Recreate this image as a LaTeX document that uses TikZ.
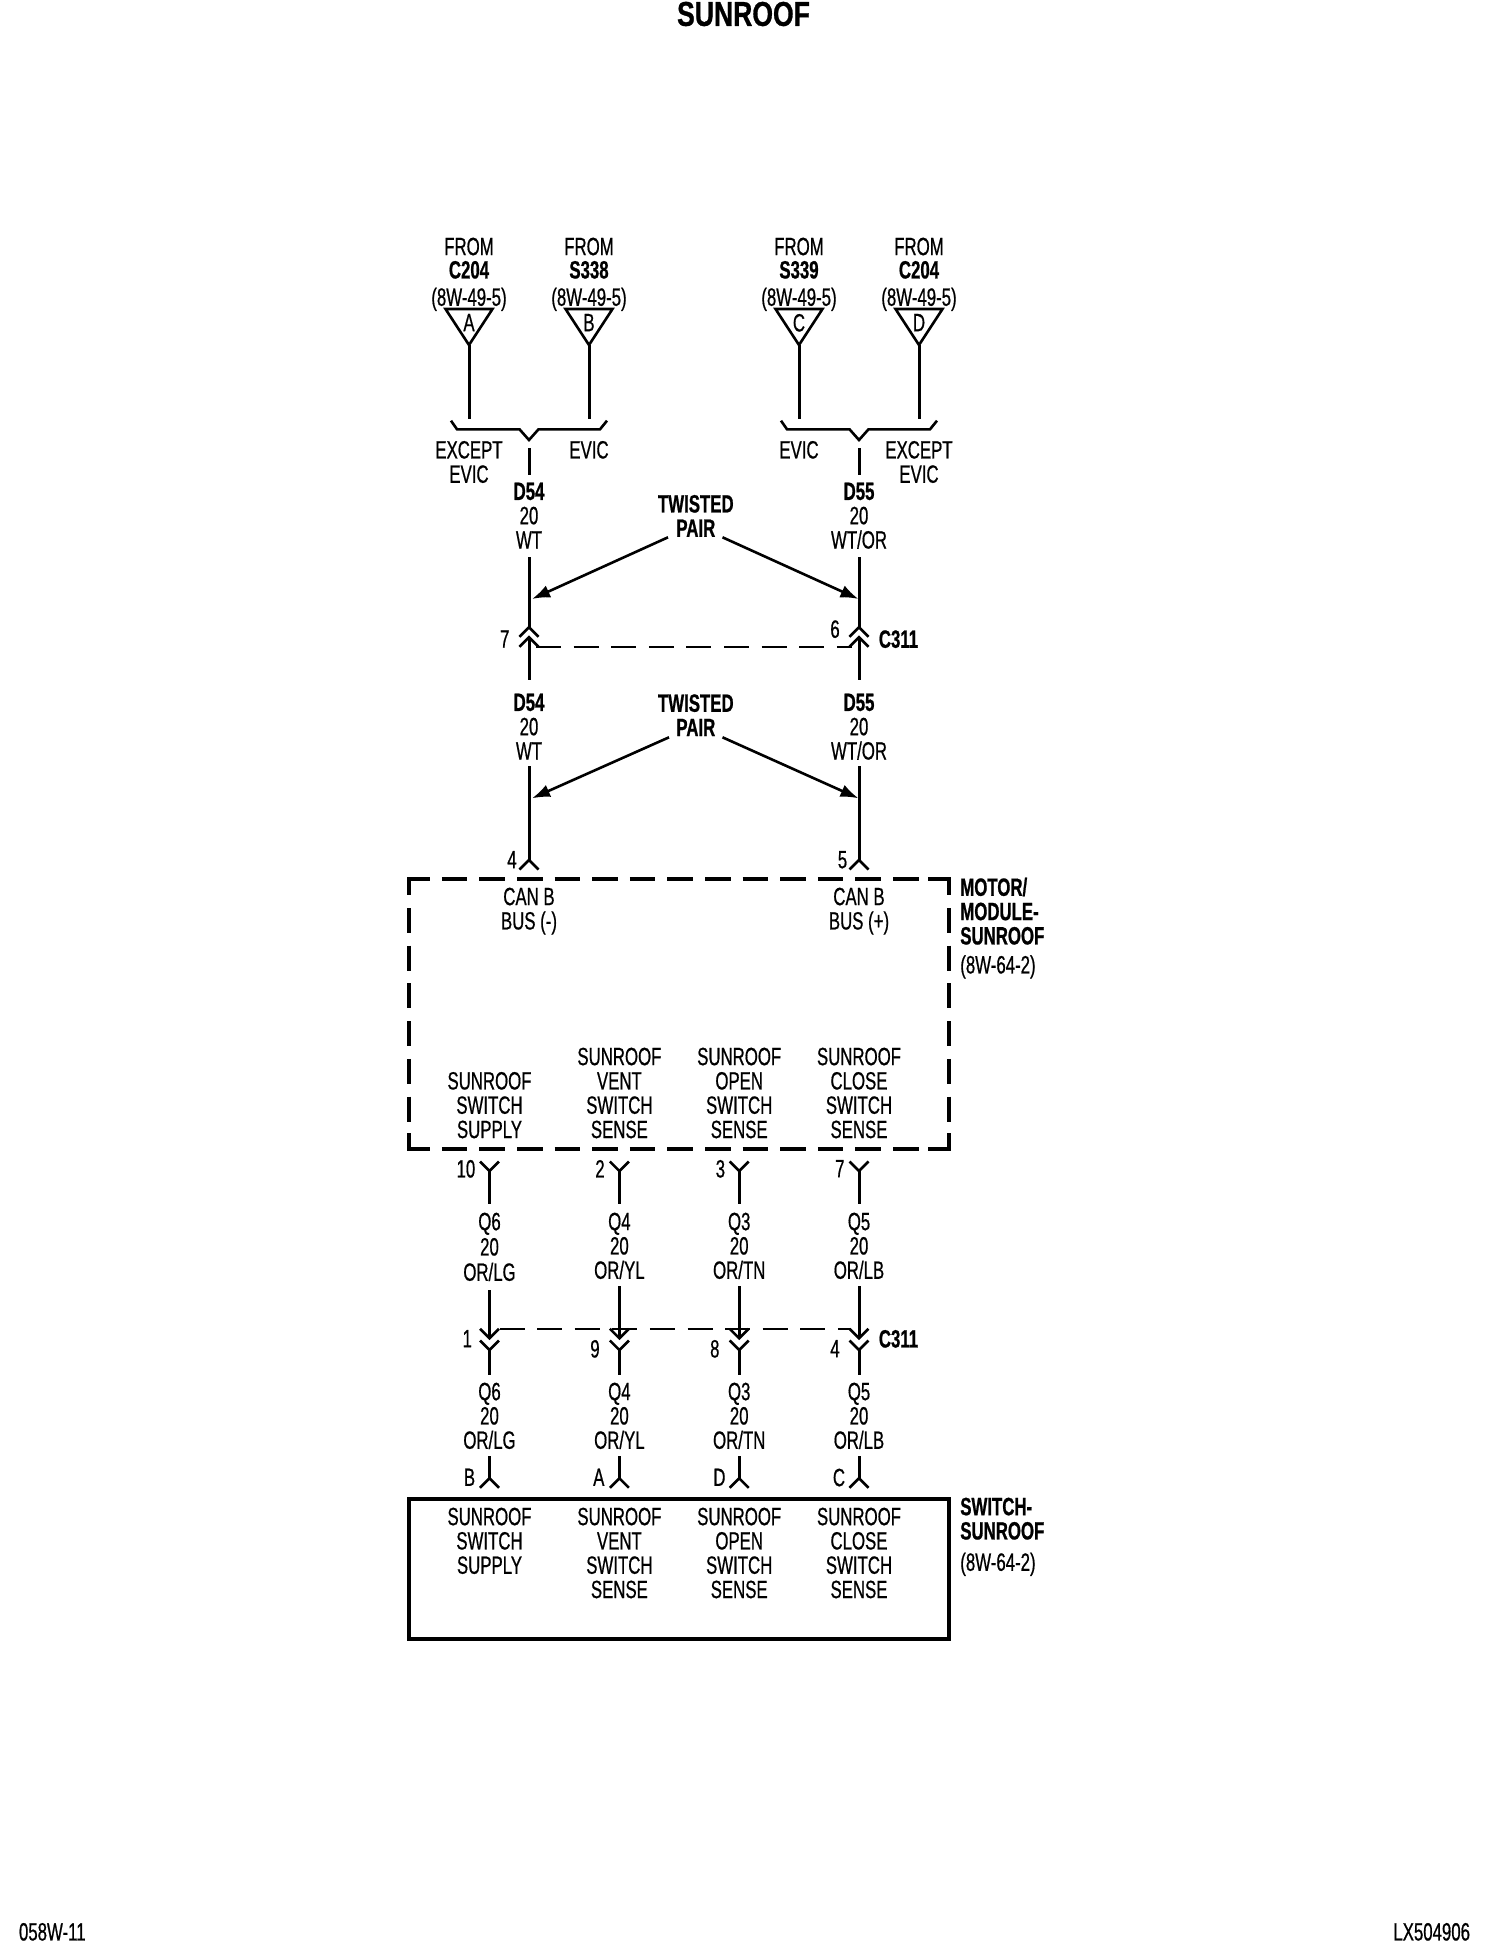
\documentclass[tikz,border=0pt]{standalone}
\usepackage{fontspec}
\setmainfont[FakeStretch=0.672,FakeBold=0.6,BoldFeatures={FakeBold=0.8}]{Liberation Sans}
\newfontfamily\titlefont[FakeStretch=0.77,FakeBold=0.8]{Liberation Sans}
\usetikzlibrary{arrows.meta}
\tikzset{
	lbl/.style={anchor=north,inner sep=0pt,outer sep=0pt,align=center,font=\fontsize{25}{24.3}\selectfont},
	lblb/.style={lbl,font=\fontsize{25}{24.3}\selectfont\bfseries},
	side/.style={lblb,anchor=north west,align=left},
	wire/.style={line width=3pt},
	thinwire/.style={line width=2.6pt},
	matedash/.style={line width=2.1pt,dash pattern=on 25pt off 12.6pt},
	ptr/.style={line width=2.6pt,-{Latex[length=18pt,width=13pt]}},
	boxcorner/.style={line width=3.7pt,line cap=butt},
	boxdashh/.style={line width=3.7pt,dash pattern=on 25.6pt off 12pt,dash phase=25.6pt},
	boxdashv/.style={line width=3.7pt,dash pattern=on 25pt off 12.7pt,dash phase=25pt},
	modbox/.style={inner sep=0pt,outer sep=0pt,anchor=north west,minimum width=540.2pt,minimum height=269.7pt},
	swbox/.style={draw,line width=3.7pt,inner sep=0pt,outer sep=0pt,anchor=north west,minimum width=540.2pt,minimum height=140pt},
	pinup/.pic={\draw[thinwire] (-9.5,9.5)--(0,0)--(9.5,9.5);},
	pindown/.pic={\draw[thinwire] (-9.5,-9.5)--(0,0)--(9.5,-9.5);}
}
\begin{document}
\begin{tikzpicture}[x=1pt,y=-1pt]
	\useasboundingbox (0,0) rectangle (1504,1958);
	\node[inner sep=0pt,font=\titlefont\fontsize{34.5}{36}\selectfont] (title) at (743.5,14) {\textbf{SUNROOF}};
	\node[lbl,anchor=north west] (sheet) at (19,1923) {058W-11};
	\node[lbl,anchor=north east] (refno) at (1470,1923) {LX504906};
	% les quatre sources
	\foreach \nm/\x/\ltr/\src in {a/469/A/C204, b/589/B/S338, c/799/C/S339, d/919/D/C204}{
		\node[lbl] (from\nm) at (\x,237.7) {FROM\\[-1pt]\textbf{\src}\\[3pt](8W-49-5)};
		\coordinate (tl\nm) at (\x-23.5,309);
		\coordinate (tr\nm) at (\x+23.5,309);
		\coordinate (apex\nm) at (\x,345);
		\coordinate (foot\nm) at (\x,418.5);
		\draw[thinwire] (tl\nm)--(tr\nm)--(apex\nm)--cycle;
		\node[lbl] (ltr\nm) at (\x,314) {\ltr};
		\draw[wire] (apex\nm)--(foot\nm);
	}
	% accolades
	\foreach \nm/\x in {l/529, r/859}{
		\coordinate (b1\nm) at (\x-78,420.7);
		\coordinate (b2\nm) at (\x-72,429.3);
		\coordinate (b3\nm) at (\x-9.5,429.3);
		\coordinate (b4\nm) at (\x,440);
		\coordinate (b5\nm) at (\x+9.5,429.3);
		\coordinate (b6\nm) at (\x+71,429.3);
		\coordinate (b7\nm) at (\x+78,420.7);
		\draw[thinwire] (b1\nm)--(b2\nm)--(b3\nm)--(b4\nm)--(b5\nm)--(b6\nm)--(b7\nm);
		\coordinate (s1\nm) at (\x,448.3);
		\coordinate (s2\nm) at (\x,475);
		\draw[wire] (s1\nm)--(s2\nm);
	}
	\node[lbl] (excl) at (469,441) {EXCEPT\\EVIC};
	\node[lbl] (evicl) at (589,441) {EVIC};
	\node[lbl] (evicr) at (799,441) {EVIC};
	\node[lbl] (excr) at (919,441) {EXCEPT\\EVIC};
	% paire torsadee
	\foreach \nm/\x/\id/\col in {l/529/D54/WT, r/859/D55/WT\slash OR}{
		\node[lbl] (cu\nm) at (\x,482.7) {\textbf{\id}\\20\\\col};
		\coordinate (w1\nm) at (\x,557.3);
		\coordinate (w2\nm) at (\x,627.3);
		\coordinate (w3\nm) at (\x,637.3);
		\coordinate (w4\nm) at (\x,680);
		\draw[wire] (w1\nm)--(w2\nm);
		\draw[wire] (w3\nm)--(w4\nm);
		\pic at (w2\nm) {pinup};
		\pic at (w3\nm) {pinup};
		\node[lbl] (cm\nm) at (\x,693.7) {\textbf{\id}\\20\\\col};
		\coordinate (w5\nm) at (\x,766);
		\coordinate (w6\nm) at (\x,860);
		\draw[wire] (w5\nm)--(w6\nm);
		\pic at (w6\nm) {pinup};
	}
	\node[lblb] (twa) at (695.8,495) {TWISTED\\PAIR};
	\node[lblb] (twb) at (695.8,694.3) {TWISTED\\PAIR};
	\coordinate (twal) at (668,537.3);
	\coordinate (twar) at (722.5,537.3);
	\coordinate (twbl) at (669,737.3);
	\coordinate (twbr) at (722.5,737.3);
	\coordinate (hitla) at (532,599);
	\coordinate (hitra) at (858.5,599);
	\coordinate (hitlb) at (532,798.3);
	\coordinate (hitrb) at (858.5,798.3);
	\draw[ptr] (twal)--(hitla);
	\draw[ptr] (twar)--(hitra);
	\draw[ptr] (twbl)--(hitlb);
	\draw[ptr] (twbr)--(hitrb);
	\coordinate (da) at (536,646.7);
	\coordinate (db) at (851.5,646.7);
	\draw[matedash] (da)--(db);
	\node[lbl] (n7) at (504.7,630.3) {7};
	\node[lbl] (n6) at (835,620.3) {6};
	\node[lblb] (c311a) at (898.5,630.3) {C311};
	\node[lbl] (n4) at (512,851) {4};
	\node[lbl] (n5) at (842.5,851) {5};
	% le module
	\node[modbox] (module) at (408.8,879.3) {};
	\draw[boxcorner] ([xshift=21pt]module.north west)--(module.north west)--([yshift=-16pt]module.north west);
	\draw[boxcorner] ([xshift=-21pt]module.north east)--(module.north east)--([yshift=-16pt]module.north east);
	\draw[boxcorner] ([xshift=21pt]module.south west)--(module.south west)--([yshift=16pt]module.south west);
	\draw[boxcorner] ([xshift=-21pt]module.south east)--(module.south east)--([yshift=16pt]module.south east);
	\draw[boxdashh] ([xshift=21pt]module.north west)--([xshift=-21pt]module.north east);
	\draw[boxdashh] ([xshift=21pt]module.south west)--([xshift=-21pt]module.south east);
	\draw[boxdashv] ([yshift=-16pt]module.north west)--([yshift=16pt]module.south west);
	\draw[boxdashv] ([yshift=-16pt]module.north east)--([yshift=16pt]module.south east);
	\node[lbl] (canm) at (529,887.7) {CAN B\\BUS (-)};
	\node[lbl] (canp) at (859,887.7) {CAN B\\BUS (+)};
	\node[side] (modname) at (960.3,877.7) {MOTOR/\\MODULE-\\SUNROOF\\[4.7pt]\textmd{(8W-64-2)}};
	\node[swbox] (switch) at (408.8,1499) {};
	\node[side] (swname) at (960.3,1497.7) {SWITCH-\\SUNROOF\\[7pt]\textmd{(8W-64-2)}};
	% les quatre fils du bas
	\foreach \nm/\x/\top/\txt/\q/\col/\gap/\pa/\pax/\pb/\pbx/\pc/\pcx in {
		s/489.5/1072/{SUNROOF\\SWITCH\\SUPPLY}/Q6/OR\slash LG/1/10/465.9/1/467.3/B/469.5,
		v/619.4/1047.7/{SUNROOF\\VENT\\SWITCH\\SENSE}/Q4/OR\slash YL/0/2/600/9/595/A/598.8,
		o/739.2/1047.7/{SUNROOF\\OPEN\\SWITCH\\SENSE}/Q3/OR\slash TN/0/3/720.4/8/714.8/D/719.4,
		c/859/1047.7/{SUNROOF\\CLOSE\\SWITCH\\SENSE}/Q5/OR\slash LB/0/7/839.8/4/835/C/839}{
		\node[lbl] (mt\nm) at (\x,\top) {\txt};
		\node[lbl] (pa\nm) at (\pax,1160) {\pa};
		\coordinate (q1\nm) at (\x,1171);
		\coordinate (q2\nm) at (\x,1204);
		\pic at (q1\nm) {pindown};
		\draw[wire] (q1\nm)--(q2\nm);
		\node[lbl] (qa\nm) at (\x,1212.7) {\q\\[\gap pt]20\\[\gap pt]\col};
		\coordinate (q3\nm) at (\x,{1286+4*\gap});
		\coordinate (q4\nm) at (\x,1338.3);
		\coordinate (q5\nm) at (\x,1350);
		\coordinate (q6\nm) at (\x,1374.5);
		\draw[wire] (q3\nm)--(q4\nm);
		\pic at (q4\nm) {pindown};
		\pic at (q5\nm) {pindown};
		\draw[wire] (q5\nm)--(q6\nm);
		\node[lbl] (pb\nm) at (\pbx,{1330+10*(1-\gap)}) {\pb};
		\node[lbl] (qb\nm) at (\x,1382.7) {\q\\20\\\col};
		\coordinate (q7\nm) at (\x,1456);
		\coordinate (q8\nm) at (\x,1478.3);
		\draw[wire] (q7\nm)--(q8\nm);
		\pic at (q8\nm) {pinup};
		\node[lbl] (pc\nm) at (\pcx,1468.7) {\pc};
		\node[lbl] (st\nm) at (\x,1507.7) {\txt};
	}
	\coordinate (dc) at (499.5,1329.3);
	\coordinate (dd) at (850,1329.3);
	\draw[matedash] (dc)--(dd);
	\node[lblb] (c311b) at (898.5,1330) {C311};
\end{tikzpicture}
\end{document}
